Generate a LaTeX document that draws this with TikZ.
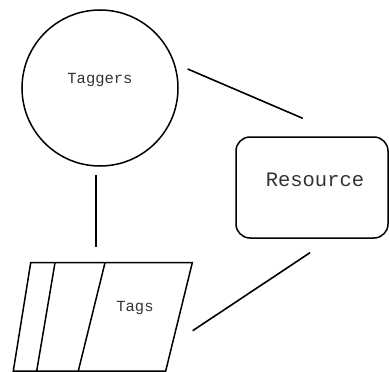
\documentclass[tikz,border=0pt]{standalone}
\usepackage{fontspec}
\setmonofont{Liberation Mono}
\usepackage{tikz}

\begin{document}
\begin{tikzpicture}[
  x=1pt, y=-1pt,
  every node/.style={font=\ttfamily, text=black!80},
  edge/.style={line width=1.6pt},
  taggerstyle/.style={draw, circle, line width=1.5pt, minimum size=156pt, inner sep=0pt},
  resourcestyle/.style={draw, rectangle, rounded corners=14pt, line width=1.5pt,
    minimum width=152pt, minimum height=101pt, inner sep=0pt}
]
\useasboundingbox (0,0) rectangle (389,372);

% Taggers
\node[taggerstyle] (taggers) at (100,88) {};
\node[font=\ttfamily\fontsize{15.5}{15.5}\selectfont] (taggerslbl) at (100,80) {Taggers};

% Resource
\node[resourcestyle] (resource) at (312,187.5) {};
\node[font=\ttfamily\fontsize{20.5}{20.5}\selectfont] (resourcelbl) at (315,180) {Resource};

% Tags
\coordinate (tagsTL) at (30.7,262.7);
\coordinate (tagsTR) at (192.3,262.7);
\coordinate (tagsBR) at (165.7,371);
\coordinate (tagsBL) at (13.3,371);
\draw[line width=1.5pt] (tagsTL) -- (tagsTR) -- (tagsBR) -- (tagsBL) -- cycle;
\draw[line width=1.5pt] (55,262.7) -- (36.7,371);
\draw[line width=1.5pt] (105,262.7) -- (78.3,371);
\node[font=\ttfamily\fontsize{15.5}{15.5}\selectfont] (tags) at (135,308) {Tags};

% connectors
\coordinate (c1a) at (187.7,69);
\coordinate (c1b) at (302.7,118.3);
\coordinate (c2a) at (96,175);
\coordinate (c2b) at (96,247.3);
\coordinate (c3a) at (192.7,330.7);
\coordinate (c3b) at (310,252.7);
\draw[edge] (c1a) -- (c1b);
\draw[edge] (c2a) -- (c2b);
\draw[edge] (c3a) -- (c3b);
\end{tikzpicture}
\end{document}
